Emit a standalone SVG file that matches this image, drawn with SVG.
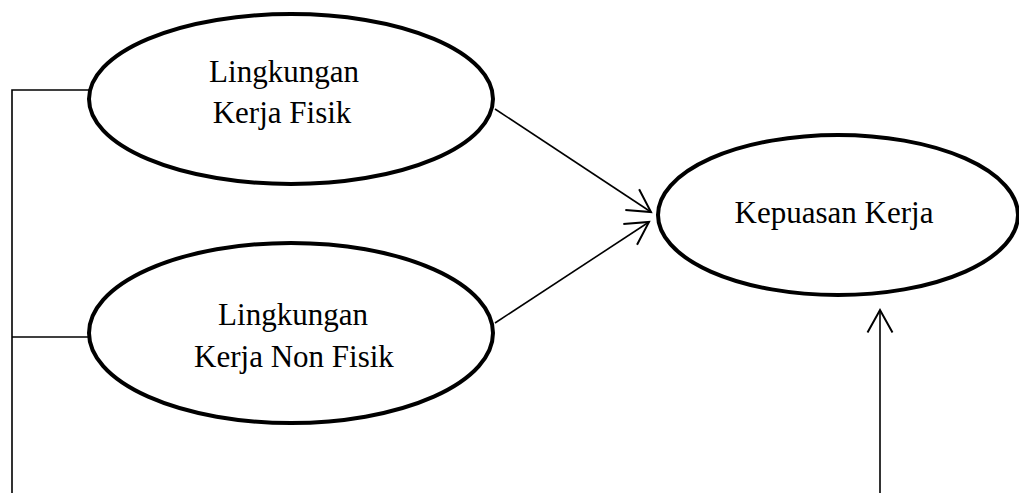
<svg xmlns="http://www.w3.org/2000/svg" width="1019" height="493" viewBox="0 0 1019 493">
<style>
.node{fill:#fff;stroke:#000;stroke-width:4}
.lbl{font-family:'Liberation Serif',serif;font-size:31px;fill:#000;text-anchor:middle}
.conn{fill:none;stroke:#000;stroke-width:1.6}
</style>
<defs>
<marker id="arr" markerUnits="userSpaceOnUse" markerWidth="30" markerHeight="30" viewBox="-20 -12 22 24" refX="0" refY="0" orient="auto" overflow="visible">
<path d="M-18,-10 L0,0 L-18,10" fill="none" stroke="#000" stroke-width="1.6"/>
</marker>
</defs>
<rect width="1019" height="493" fill="#fff"/>
<g id="connectors">
<polyline class="conn" points="89,90 12,90 12,493"/>
<line class="conn" x1="12" y1="337" x2="89" y2="337"/>
<line class="conn" x1="495" y1="109" x2="651" y2="212" marker-end="url(#arr)"/>
<line class="conn" x1="495" y1="323" x2="649" y2="222" marker-end="url(#arr)"/>
<line class="conn" x1="880" y1="493" x2="880" y2="310" marker-end="url(#arr)"/>
</g>
<g id="lingkungan-fisik">
<ellipse class="node" cx="291" cy="99" rx="202" ry="85"/>
<text class="lbl" x="284" y="82" font-family="Liberation Serif">Lingkungan</text>
<text class="lbl" x="282" y="123" font-family="Liberation Serif">Kerja Fisik</text>
</g>
<g id="lingkungan-non-fisik">
<ellipse class="node" cx="291" cy="333" rx="202" ry="90"/>
<text class="lbl" x="293" y="325" font-family="Liberation Serif">Lingkungan</text>
<text class="lbl" x="294" y="367" font-family="Liberation Serif">Kerja Non Fisik</text>
</g>
<g id="kepuasan-kerja">
<ellipse class="node" cx="838" cy="215" rx="180" ry="80"/>
<text class="lbl" x="834" y="223" font-family="Liberation Serif">Kepuasan Kerja</text>
</g>
</svg>
